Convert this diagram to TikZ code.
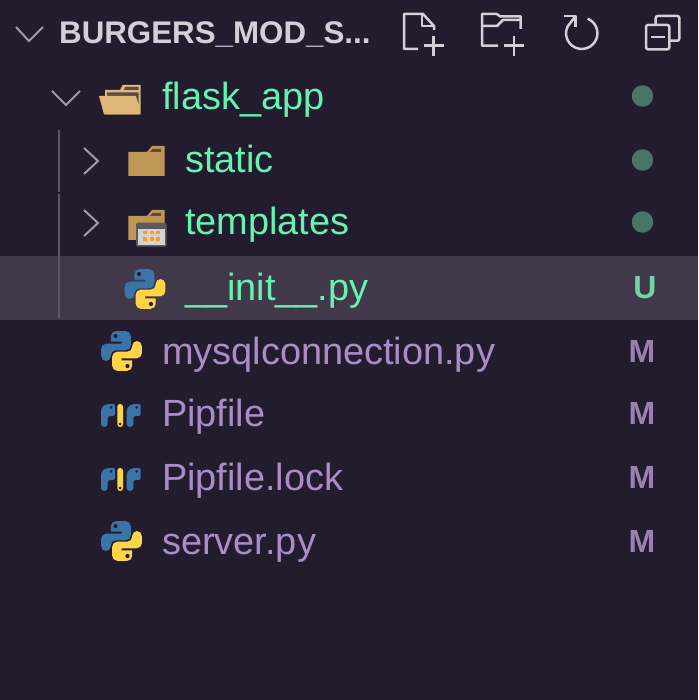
\documentclass[tikz,border=0pt]{standalone}
\usepackage{fontspec}
\setmainfont{Liberation Sans}
\definecolor{bgc}{HTML}{231C2E}
\definecolor{rowc}{HTML}{41394A}
\definecolor{headc}{HTML}{D2CFD6}
\definecolor{greenc}{HTML}{66F2B3}
\definecolor{purplec}{HTML}{AC8CC4}
\definecolor{badgec}{HTML}{477666}
\definecolor{ubadge}{HTML}{6FD3AB}
\definecolor{mbadge}{HTML}{9A80AE}
\definecolor{guidec}{HTML}{5C5A5E}
\definecolor{chevc}{HTML}{A09BA5}
\definecolor{pyblue}{HTML}{3B75A8}
\definecolor{pyyellow}{HTML}{FFD445}
\definecolor{folderc}{HTML}{C09855}
\definecolor{folderl}{HTML}{DFB878}
\definecolor{folderd}{HTML}{5B4A45}
\definecolor{tmplframe}{HTML}{5E5A5C}
\definecolor{tmplface}{HTML}{D3D3D3}
\definecolor{tmplcell}{HTML}{FF9A1E}
\tikzset{
  x=1pt,y=-1pt,
  hd/.style={font=\fontsize{31.3}{32}\selectfont\bfseries,text=headc,anchor=base west,inner sep=0pt},
  gname/.style={font=\fontsize{37.9}{38}\selectfont,text=greenc,anchor=base west,inner sep=0pt},
  pname/.style={font=\fontsize{37.9}{38}\selectfont,text=purplec,anchor=base west,inner sep=0pt},
  mbadgestyle/.style={font=\fontsize{32}{32}\selectfont\bfseries,text=mbadge,anchor=base,inner sep=0pt},
  dotbadge/.style={circle,fill=badgec,minimum size=21.5pt,inner sep=0pt},
  chev/.style={draw=chevc,line width=2pt,line cap=butt},
  tool/.style={draw=headc,line width=2.5pt,line join=round},
  pyicon/.pic={
    \path[fill=pyblue] (0,-9.3) -- (-10.7,-9.3) [rounded corners=5pt] -- (-10.7,-19.8) -- (9.3,-19.8) -- (9.3,-0.7) -- (-10.7,-0.7) -- (-10.7,10) -- (-20.3,10) -- (-20.3,-7.3) -- (-5,-7.3) [sharp corners] -- (0,-7.3) -- cycle;
    \path[fill=pyyellow,rotate=180] (0,-9.3) -- (-10.7,-9.3) [rounded corners=5pt] -- (-10.7,-19.8) -- (9.3,-19.8) -- (9.3,-0.7) -- (-10.7,-0.7) -- (-10.7,10) -- (-20.3,10) -- (-20.3,-7.3) -- (-5,-7.3) [sharp corners] -- (0,-7.3) -- cycle;
    \fill[bgc] (-6,-15) circle (2.1pt) (6,15) circle (2.1pt);
  },
  pipblue/.pic={
    \fill[pyblue] (-20,-4) .. controls (-20,-9) and (-16,-11.5) .. (-11,-11.5) -- (-8,-11.5) .. controls (-6.6,-11.5) and (-6,-10.7) .. (-6,-9) -- (-6,-1.5) .. controls (-6,-0.2) and (-7,0.5) .. (-8.5,0.5) -- (-11,0.5) .. controls (-12.5,0.5) and (-13.3,1.5) .. (-13.3,3) -- (-13.3,8.5) .. controls (-13.3,12.4) and (-20,12.4) .. (-20,8.5) -- cycle;
    \fill[bgc] (-10,-8.2) circle (1.5pt);
  },
  pipicon/.pic={
    \pic at (0,0) {pipblue};
    \pic at (25.7,0) {pipblue};
    \path[fill=pyyellow,rounded corners=2.7pt] (-3.7,-11.5) -- (2,-11.5) -- (2,11.5) -- (-3.7,11.5) -- cycle;
    \fill[bgc] (-0.9,8.5) circle (1.5pt);
  }
}
\begin{document}
\begin{tikzpicture}
\useasboundingbox (0,0) rectangle (698,700);
\fill[bgc] (0,0) rectangle (698,700);
\fill[rowc] (0,256) rectangle (698,320);
% indent guides
\draw[guidec,line width=1.5pt] (59,130) -- (59,192);
\draw[guidec,line width=1.5pt] (59,194) -- (59,318);
% header
\node[hd] (title) at (59,44) {BURGERS\_MOD\_S...};
\draw[chev] (16,27) -- (29,41) -- (43,27);
% toolbar
\draw[tool] (418,49) -- (404,49) -- (404,14) -- (423,14) -- (434,26) -- (434,30);
\draw[tool] (422,14) -- (422,26) -- (434,26);
\draw[tool] (423.5,45.7) -- (443.5,45.7) (433.7,36) -- (433.7,55.7);
\draw[tool] (498,45.7) -- (482,45.7) -- (482,14) -- (496.7,14) -- (500,16.3) -- (520.7,16.3) -- (520.7,29);
\draw[tool] (482,26) -- (497,26) -- (503,20) -- (520.7,20);
\draw[tool] (504.3,45.7) -- (524.3,45.7) (514,36) -- (514,55.7);
\draw[tool] (587.6,18.7) arc[start angle=-68,end angle=205,radius=15.7] -- (575.7,16);
\draw[tool] (564,16) -- (575.7,16) -- (575.7,26.7);
\draw[tool,rounded corners=2pt] (646,25) rectangle (669.3,49.3);
\draw[tool] (651,37) -- (665,37);
\draw[tool,rounded corners=2pt] (655.7,25) -- (655.7,16) -- (679.3,16) -- (679.3,40.7) -- (669.3,40.7);
% flask_app row
\draw[chev] (52,91) -- (66,105) -- (80,91);
\fill[folderl] (105,90) -- (120,90) -- (122.5,85) -- (140.5,85) -- (140.5,114.5) -- (105,114.5) -- cycle;
\fill[folderd] (125,87) -- (138.5,87) -- (138.5,90) -- (124,90) -- cycle;
\fill[folderd] (107,92.5) -- (138.5,92.5) -- (138.5,104) -- (136,96) -- (107,96) -- cycle;
\fill[folderl] (99,96) -- (135,96) -- (139.5,114.5) -- (104,114.5) -- cycle;
\node[gname] (flask) at (162,110) {flask\_app};
\node[dotbadge] (d1) at (642.5,96) {};
% static row
\draw[chev] (84,148) -- (98,161) -- (84,174);
\fill[folderc] (128.3,176) -- (128.3,152) -- (147,152) -- (152,146) -- (164.7,146) -- (164.7,176) -- cycle;
\fill[folderd] (150,152) -- (152.5,149) -- (161,149) -- (161,152) -- cycle;
\node[gname] (static) at (185,173) {static};
\node[dotbadge] (d2) at (642.5,160) {};
% templates row
\draw[chev] (84,210) -- (98,223) -- (84,236);
\fill[folderc] (128.3,240) -- (128.3,216) -- (147,216) -- (152,210) -- (164.7,210) -- (164.7,240) -- cycle;
\fill[folderd] (150,216) -- (152.5,213) -- (161,213) -- (161,216) -- cycle;
\fill[tmplframe,rounded corners=1.5pt] (136,222.7) rectangle (166.7,246.7);
\fill[tmplface] (138,229) rectangle (165,245);
\foreach \cx in {145,151.7,158}{\foreach \cy in {232.5,238.7}{\fill[tmplcell] (\cx-1.9,\cy-1.9) rectangle (\cx+1.9,\cy+1.9);}}
\node[gname] (templates) at (185,235) {templates};
\node[dotbadge] (d3) at (642.5,222) {};
% init row
\pic at (145,289) {pyicon};
\node[gname] (init) at (185,300) {\_\_init\_\_.py};
\node[mbadgestyle,text=ubadge] (u) at (645,298) {U};
% others
\pic at (121.5,351) {pyicon};
\node[pname] (mysql) at (162,364) {mysqlconnection.py};
\node[mbadgestyle] (m1) at (642,362) {M};
\pic at (121,415.5) {pipicon};
\node[pname] (pipf) at (162,426) {Pipfile};
\node[mbadgestyle] (m2) at (642,424) {M};
\pic at (121,479.5) {pipicon};
\node[pname] (piplock) at (162,490) {Pipfile.lock};
\node[mbadgestyle] (m3) at (642,488) {M};
\pic at (121.5,541) {pyicon};
\node[pname] (server) at (162,554) {server.py};
\node[mbadgestyle] (m4) at (642,552) {M};
\end{tikzpicture}
\end{document}
